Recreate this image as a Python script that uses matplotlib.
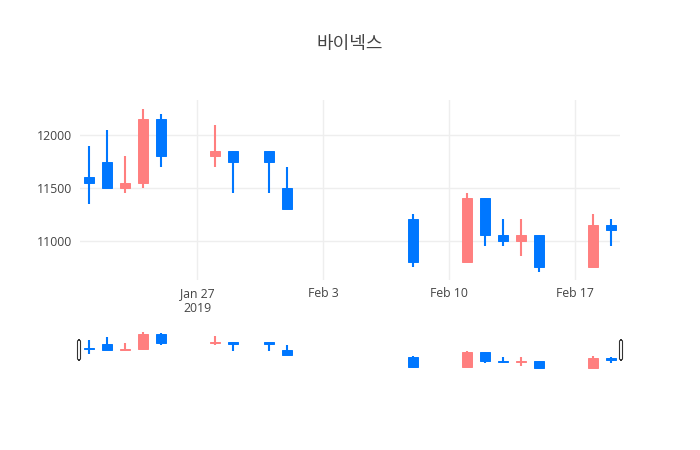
import matplotlib.pyplot as plt
import matplotlib.dates as mdates
from matplotlib.patches import FancyBboxPatch
import numpy as np
import datetime as dt

plt.rcParams['font.family'] = ['Open Sans', 'Noto Sans CJK KR', 'DejaVu Sans']

title = "바이넥스"
dates = ["2019-01-21", "2019-01-22", "2019-01-23", "2019-01-24", "2019-01-25",
         "2019-01-28", "2019-01-29", "2019-01-31", "2019-02-01",
         "2019-02-08", "2019-02-11", "2019-02-12", "2019-02-13", "2019-02-14",
         "2019-02-15", "2019-02-18", "2019-02-19"]
opens = [11600, 11750, 11500, 11550, 12150, 11800, 11850, 11850, 11500,
         11200, 10800, 11400, 11050, 11000, 11050, 10750, 11150]
highs = [11900, 12050, 11800, 12250, 12200, 12100, 11850, 11850, 11700,
         11250, 11450, 11400, 11200, 11200, 11050, 11250, 11200]
lows = [11350, 11500, 11450, 11500, 11700, 11700, 11450, 11450, 11300,
        10750, 10800, 10950, 10950, 10850, 10700, 10750, 10950]
closes = [11550, 11500, 11550, 12150, 11800, 11850, 11750, 11750, 11300,
          10800, 11400, 11050, 11000, 11050, 10750, 11150, 11100]

up_color = '#ff7f7f'
down_color = '#0077ff'

x = mdates.date2num([dt.datetime.strptime(d, "%Y-%m-%d") for d in dates])
xlim = (x[0] - 0.5, x[-1] + 0.5)
ylim = (10625, 12335)


def draw_candles(ax, wick_lw):
    for xi, o, h, l, c in zip(x, opens, highs, lows, closes):
        col = up_color if c >= o else down_color
        ax.plot([xi, xi], [l, h], color=col, lw=wick_lw, solid_capstyle='butt', zorder=2)
        lo, hi = min(o, c), max(o, c)
        ax.bar(xi, hi - lo, bottom=lo, width=0.6, color=col, edgecolor=col, lw=0.7, zorder=3)


fig = plt.figure(figsize=(7, 4.5), dpi=100)
W, H = 700, 450

ax = fig.add_axes([80 / W, 1 - 280 / H, 540 / W, 180 / H])
draw_candles(ax, 1.5)
ax.set_xlim(xlim)
ax.set_ylim(ylim)
ax.set_yticks([11000, 11500, 12000])
ax.set_yticklabels(["11000", "11500", "12000"])
tick_dates = [dt.datetime(2019, 1, 27), dt.datetime(2019, 2, 3),
              dt.datetime(2019, 2, 10), dt.datetime(2019, 2, 17)]
ax.set_xticks(mdates.date2num(tick_dates))
ax.set_xticklabels(["Jan 27\n2019", "Feb 3", "Feb 10", "Feb 17"], linespacing=1.2)
ax.grid(True, color='#eeeeee', lw=1, zorder=0)
ax.set_axisbelow(True)
for s in ax.spines.values():
    s.set_visible(False)
ax.tick_params(length=0, colors='#444444', labelsize=8.8, pad=6)
ax.tick_params(axis='x', pad=5)

fig.text(350 / W, 1 - 44 / H, title, ha='center', va='center', fontsize=13,
         color='#444444', family=['Noto Sans CJK KR', 'DejaVu Sans'])

# range slider
rs = fig.add_axes([80 / W, 1 - 371 / H, 540 / W, 41 / H])
draw_candles(rs, 1.5)
rs.set_xlim(xlim)
rs.set_ylim(ylim)
rs.axis('off')

for hx in (79, 621):
    fig.patches.append(FancyBboxPatch((hx / W - 1.5 / W, 1 - 360 / H), 3 / W, 20 / H,
                                      boxstyle="round,pad=0,rounding_size=0.003",
                                      transform=fig.transFigure, facecolor='white',
                                      edgecolor='#333333', lw=0.8))

fig.savefig("out.png", dpi=100)
